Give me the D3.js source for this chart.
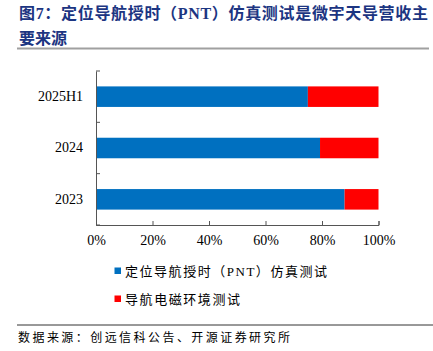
<!DOCTYPE html>
<html><head><meta charset="utf-8">
<script src="https://cdn.jsdelivr.net/npm/d3@7"></script>
<style>body{margin:0;background:#fff}svg{display:block}</style>
</head><body>
<svg id="c" width="433" height="351"></svg>
<script>
const categories = ["2025H1", "2024", "2023"];
const seriesNames = ["定位导航授时（PNT）仿真测试", "导航电磁环境测试"];
const pntShare = [0.75, 0.793, 0.88];
const emShare = [0.25, 0.207, 0.12];
const tickValues = [0, 0.2, 0.4, 0.6, 0.8, 1.0];
const colors = ["#0070C0", "#FF0000"];

const svg = d3.select("#c");
const serif = "'Liberation Serif','Times New Roman',serif";
const cjk = "'Liberation Serif','Noto Sans CJK SC',serif";

// title
svg.append("text").attr("x", 19).attr("y", 19).attr("fill", "#1C3582")
  .attr("font-family", cjk).attr("font-weight", "bold").attr("font-size", 16)
  .attr("textLength", 409).attr("lengthAdjust", "spacing")
  .text("图7：定位导航授时（PNT）仿真测试是微宇天导营收主");
svg.append("text").attr("x", 19).attr("y", 44).attr("fill", "#1C3582")
  .attr("font-family", cjk).attr("font-weight", "bold").attr("font-size", 16)
  .attr("textLength", 48).attr("lengthAdjust", "spacing")
  .text("要来源");
svg.append("line").attr("x1", 17).attr("x2", 429).attr("y1", 48.5).attr("y2", 48.5)
  .attr("stroke", "#A0A0A0").attr("stroke-width", 2);

const x = d3.scaleLinear().domain([0, 1]).range([96, 378.5]);
const y = d3.scaleBand().domain(categories).range([71, 225]).paddingInner(0.6).paddingOuter(0.3);

const stackData = categories.map((c, i) => ({cat: c, a: pntShare[i], b: emShare[i]}));
const stack = d3.stack().keys(["a", "b"])(stackData);

svg.append("g").selectAll("g").data(stack).join("g")
  .attr("fill", (d, i) => colors[i])
  .selectAll("rect").data(d => d).join("rect")
  .attr("x", d => x(d[0])).attr("width", d => x(d[1]) - x(d[0]))
  .attr("y", d => y(d.data.cat)).attr("height", y.bandwidth());

// axes
const xAxis = d3.axisBottom(x).tickValues(tickValues).tickSizeInner(-4).tickSizeOuter(-4)
  .tickPadding(10).tickFormat(d => Math.round(d * 100) + "%");
const gx = svg.append("g").attr("transform", "translate(0,225)").call(xAxis);
gx.selectAll("text").attr("font-family", serif).attr("font-size", 14).attr("fill", "#000");
gx.selectAll("path,line").attr("stroke", "#555");

const yb = d3.scaleBand().domain(categories).range([71, 225]);
const gy = svg.append("g").attr("transform", "translate(96,0)")
  .call(d3.axisLeft(yb).tickSize(0).tickSizeOuter(0).tickPadding(13));
gy.selectAll("text").attr("font-family", serif).attr("font-size", 14).attr("fill", "#000");
gy.select("path").attr("stroke", "#555");
// band boundary ticks (pointing right)
const bounds = [71].concat(categories.map(c => yb(c) + yb.bandwidth()));
gy.selectAll(".bt").data(bounds).join("line").attr("class", "bt")
  .attr("x1", 0).attr("x2", 4).attr("y1", d => d).attr("y2", d => d).attr("stroke", "#555");

// legend
const lg = svg.append("g");
const lgY = [271, 299];
const lgW = [202, 115];
seriesNames.forEach((n, i) => {
  lg.append("rect").attr("x", 114.5).attr("y", lgY[i] - 3.5).attr("width", 6.5).attr("height", 6.5).attr("fill", colors[i]);
  lg.append("text").attr("x", 125).attr("y", lgY[i] + 5).attr("font-family", cjk).attr("font-size", 13)
    .attr("fill", "#000").attr("textLength", lgW[i]).attr("lengthAdjust", "spacing").text(n);
});

// footer
svg.append("line").attr("x1", 17).attr("x2", 433).attr("y1", 325).attr("y2", 325)
  .attr("stroke", "#333").attr("stroke-width", 1);
svg.append("text").attr("x", 18).attr("y", 342).attr("font-family", cjk).attr("font-size", 12)
  .attr("fill", "#000").attr("textLength", 272).attr("lengthAdjust", "spacing")
  .text("数据来源：创远信科公告、开源证券研究所");
</script>
</body></html>
